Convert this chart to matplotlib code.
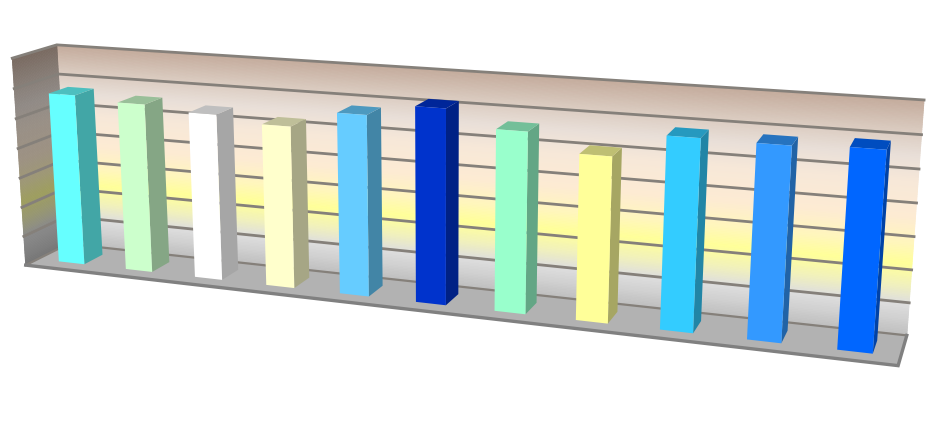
import numpy as np
import matplotlib
matplotlib.use("Agg")
import matplotlib.pyplot as plt
from matplotlib.collections import PolyCollection
from matplotlib.colors import to_rgb

# chart values
values = [5.75, 5.62, 5.47, 5.27, 5.82, 6.2, 5.68, 5.13, 5.87, 5.85, 5.93]
front_colors = ['#66FFFF', '#CCFFCC', '#FFFFFF', '#FFFFCC', '#66CCFF', '#0033CC',
                '#99FFCC', '#FFFF99', '#33CCFF', '#3399FF', '#0066FF']
y_max = 7

# wall gradient
grad_pos = [0.0, 0.5, 1.0, 1.6, 2.2, 2.8, 3.6, 4.6, 5.4, 6.2, 7.0]
grad_colors = ['#BDBDBD', '#D0D0D0', '#DEDEDE', '#F3F3B8', '#FFFF99', '#FFF6BC',
               '#FDEBD3', '#F7E8D8', '#E9DFD8', '#D8C8BC', '#C4AB9C']

# camera calibration: model (x, y, depth) -> pixel
n_cat = len(values)
model_pts = [(0, 0, 1), (n_cat, 0, 1), (0, 0, 0), (n_cat, 0, 0),
             (0, y_max, 1), (n_cat, y_max, 1), (0, y_max, 0)]
pixel_pts = [(67, 244), (907, 335), (27, 265), (898, 366),
             (58, 45), (924, 100), (11, 58)]


def fit_camera(model, pixel):
    rows = []
    rhs = []
    for (x, y, z), (u, v) in zip(model, pixel):
        rows.append([x, y, z, 1, 0, 0, 0, 0, -u*x, -u*y, -u*z])
        rows.append([0, 0, 0, 0, x, y, z, 1, -v*x, -v*y, -v*z])
        rhs += [u, v]
    p = np.linalg.lstsq(np.array(rows, float), np.array(rhs, float), rcond=None)[0]
    return np.append(p, 1).reshape(3, 4)


P = fit_camera(model_pts, pixel_pts)


def project(pts):
    pts = np.asarray(pts, float)
    h = np.c_[pts, np.ones(len(pts))] @ P.T
    return h[:, :2] / h[:, 2:]


def shade(color, k):
    return tuple(c*k for c in to_rgb(color))


def wall_color(y):
    rgb = [np.interp(y, grad_pos, [to_rgb(c)[i] for c in grad_colors]) for i in range(3)]
    return tuple(rgb)


fig = plt.figure(figsize=(9.37, 4.21), dpi=100)
ax = fig.add_axes([0, 0, 1, 1])
ax.set_xlim(0, 937)
ax.set_ylim(421, 0)
ax.axis('off')

# walls, drawn as thin strips so the gradient follows the perspective
levels = np.linspace(0, y_max, 141)
back, side, back_c, side_c = [], [], [], []
for y0, y1 in zip(levels[:-1], levels[1:]):
    mid = (y0 + y1) / 2
    back.append(project([(0, y0, 1), (n_cat, y0, 1), (n_cat, y1, 1), (0, y1, 1)]))
    side.append(project([(0, y0, 0), (0, y0, 1), (0, y1, 1), (0, y1, 0)]))
    back_c.append(wall_color(mid))
    side_c.append(shade(wall_color(mid), 0.62))
ax.add_collection(PolyCollection(back, facecolors=back_c, edgecolors=back_c, linewidths=0.6, zorder=1))
ax.add_collection(PolyCollection(side, facecolors=side_c, edgecolors=side_c, linewidths=0.6, zorder=1))

# floor
floor = project([(0, 0, 0), (n_cat, 0, 0), (n_cat, 0, 1), (0, 0, 1)])
ax.fill(floor[:, 0], floor[:, 1], color='#B2B2B2', lw=0, zorder=2)

# gridlines
grid_color = '#85807A'
for y in range(1, y_max + 1):
    line = project([(0, y, 0), (0, y, 1), (n_cat, y, 1)])
    ax.plot(line[:, 0], line[:, 1], color=grid_color, lw=2.0, solid_joinstyle='miter', zorder=3)
line = project([(0, 0, 0), (0, 0, 1), (n_cat, 0, 1)])
ax.plot(line[:, 0], line[:, 1], color=grid_color, lw=1.6, zorder=3)

# floor front edge
edge = project([(0, 0, 0), (n_cat, 0, 0), (n_cat, 0, 1)])
ax.plot(edge[:, 0], edge[:, 1], color='#808080', lw=2.4, solid_joinstyle='miter', zorder=3)

# bars
bar_w = 0.385
d0, d1 = 0.28, 0.72
for i, (val, col) in enumerate(zip(values, front_colors)):
    x0 = i + 0.51 - bar_w / 2
    x1 = i + 0.51 + bar_w / 2
    right = project([(x1, 0, d0), (x1, 0, d1), (x1, val, d1), (x1, val, d0)])
    top = project([(x0, val, d0), (x1, val, d0), (x1, val, d1), (x0, val, d1)])
    front = project([(x0, 0, d0), (x1, 0, d0), (x1, val, d0), (x0, val, d0)])
    ax.fill(right[:, 0], right[:, 1], color=shade(col, 0.65), lw=0, zorder=4)
    ax.fill(top[:, 0], top[:, 1], color=shade(col, 0.75), lw=0, zorder=4)
    ax.fill(front[:, 0], front[:, 1], color=col, lw=0, zorder=5)

fig.savefig('out.png', dpi=100)
